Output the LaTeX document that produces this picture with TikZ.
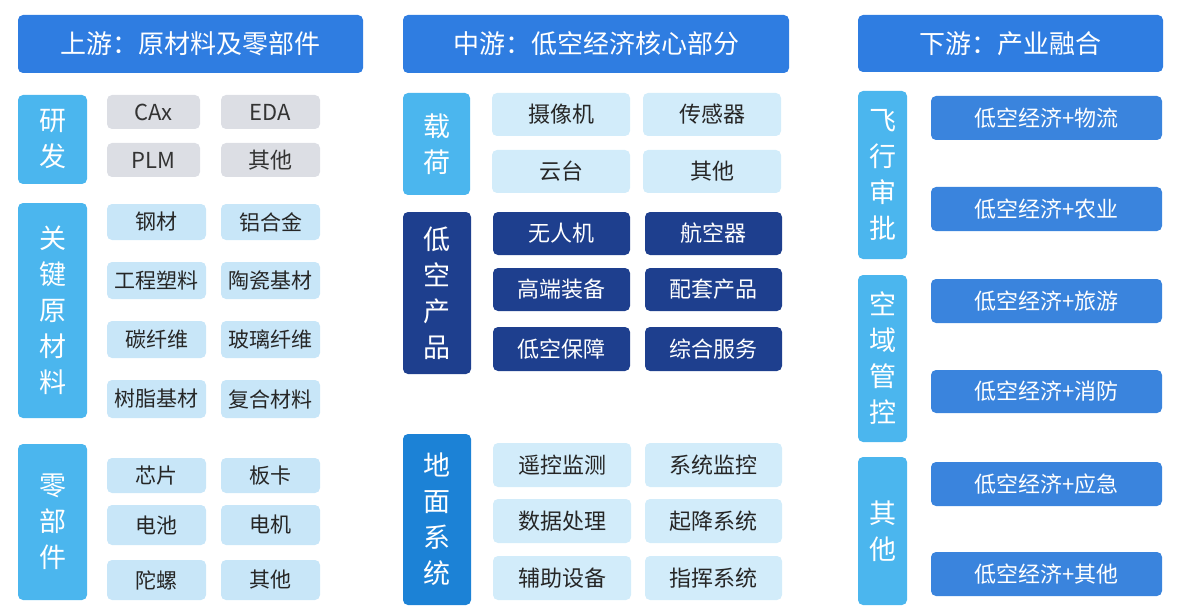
\documentclass[tikz,border=0pt]{standalone}
\usepackage{fontspec}
\setmainfont{Noto Sans CJK SC}
\definecolor{hdr}{HTML}{2F7DE1}
\definecolor{lab}{HTML}{4BB6EE}
\definecolor{grayb}{HTML}{DCDEE4}
\definecolor{lb}{HTML}{C8E6F8}
\definecolor{vlb}{HTML}{D2ECFA}
\definecolor{navy}{HTML}{1E3F8E}
\definecolor{mid}{HTML}{1C82D6}
\definecolor{rb}{HTML}{3A84DD}
\tikzset{
 bbase/.style={rounded corners=5pt,inner sep=0pt,align=center},
 hdrbox/.style={bbase,fill=hdr,text=white,font=\fontsize{26}{30}\selectfont},
 labbox/.style={bbase,fill=lab,text=white,font=\fontsize{27}{36}\selectfont},
 navylab/.style={bbase,fill=navy,text=white,font=\fontsize{27}{36}\selectfont},
 midlab/.style={bbase,fill=mid,text=white,font=\fontsize{27}{36}\selectfont},
 grayitem/.style={bbase,fill=grayb,text=black!80,font=\fontsize{22}{24}\selectfont},
 lbitem/.style={bbase,fill=lb,text=black!85,font=\fontsize{21}{24}\selectfont},
 vlbitem/.style={bbase,fill=vlb,text=black!85,font=\fontsize{22}{24}\selectfont},
 navyitem/.style={bbase,fill=navy,text=white,font=\fontsize{22}{24}\selectfont},
 rbitem/.style={bbase,fill=rb,text=white,font=\fontsize{22}{24}\selectfont},
}
\newcommand\bx[7]{\node[#6,minimum width={(#4-#2)*1pt},minimum height={(#5-#3)*1pt}] (#1) at ({(#2+#4)/2*1pt},{-(#3+#5)/2*1pt}) {#7};}
\begin{document}
\begin{tikzpicture}
\useasboundingbox (0,0) rectangle (1192pt,-615pt);
% headers
\bx{h1}{18}{15}{363}{73}{hdrbox}{上游：原材料及零部件}
\bx{h2}{403}{15}{789}{73}{hdrbox}{中游：低空经济核心部分}
\bx{h3}{858}{15}{1163}{72}{hdrbox}{下游：产业融合}
% left
\bx{l1}{18}{95}{87}{184}{labbox}{研\\发}
\bx{a1}{107}{95}{200}{129}{grayitem}{CAx}
\bx{a2}{221}{95}{320}{129}{grayitem}{EDA}
\bx{a3}{107}{143}{200}{177}{grayitem}{PLM}
\bx{a4}{221}{143}{320}{177}{grayitem}{其他}
\bx{l2}{18}{203}{87}{418}{labbox}{关\\键\\原\\材\\料}
\bx{b1}{107}{204}{206}{240}{lbitem}{钢材}
\bx{b2}{221}{204}{320}{240}{lbitem}{铝合金}
\bx{b3}{107}{262}{206}{299}{lbitem}{工程塑料}
\bx{b4}{221}{262}{320}{299}{lbitem}{陶瓷基材}
\bx{b5}{107}{321}{206}{358}{lbitem}{碳纤维}
\bx{b6}{221}{321}{320}{358}{lbitem}{玻璃纤维}
\bx{b7}{107}{380}{206}{418}{lbitem}{树脂基材}
\bx{b8}{221}{380}{320}{418}{lbitem}{复合材料}
\bx{l3}{18}{444}{87}{600}{labbox}{零\\部\\件}
\bx{c1}{107}{458}{206}{493}{lbitem}{芯片}
\bx{c2}{221}{458}{320}{493}{lbitem}{板卡}
\bx{c3}{107}{505}{206}{545}{lbitem}{电池}
\bx{c4}{221}{505}{320}{545}{lbitem}{电机}
\bx{c5}{107}{560}{206}{600}{lbitem}{陀螺}
\bx{c6}{221}{560}{320}{600}{lbitem}{其他}
% middle
\bx{m1}{403}{93}{470}{195}{labbox}{载\\荷}
\bx{d1}{492}{93}{630}{136}{vlbitem}{摄像机}
\bx{d2}{643}{93}{781}{136}{vlbitem}{传感器}
\bx{d3}{492}{150}{630}{193}{vlbitem}{云台}
\bx{d4}{643}{150}{781}{193}{vlbitem}{其他}
\bx{m2}{403}{212}{471}{374}{navylab}{低\\空\\产\\品}
\bx{e1}{493}{212}{630}{255}{navyitem}{无人机}
\bx{e2}{645}{212}{782}{255}{navyitem}{航空器}
\bx{e3}{493}{268}{630}{311}{navyitem}{高端装备}
\bx{e4}{645}{268}{782}{311}{navyitem}{配套产品}
\bx{e5}{493}{327}{630}{371}{navyitem}{低空保障}
\bx{e6}{645}{327}{782}{371}{navyitem}{综合服务}
\bx{m3}{403}{434}{471}{605}{midlab}{地\\面\\系\\统}
\bx{f1}{493}{443}{631}{487}{vlbitem}{遥控监测}
\bx{f2}{645}{443}{782}{487}{vlbitem}{系统监控}
\bx{f3}{493}{499}{631}{543}{vlbitem}{数据处理}
\bx{f4}{645}{499}{782}{543}{vlbitem}{起降系统}
\bx{f5}{493}{556}{631}{600}{vlbitem}{辅助设备}
\bx{f6}{645}{556}{782}{600}{vlbitem}{指挥系统}
% right
\bx{r1}{858}{91}{907}{259}{labbox}{飞\\行\\审\\批}
\bx{g1}{931}{96}{1162}{140}{rbitem}{低空经济+物流}
\bx{g2}{931}{187}{1162}{231}{rbitem}{低空经济+农业}
\bx{r2}{858}{275}{907}{442}{labbox}{空\\域\\管\\控}
\bx{g3}{931}{279}{1162}{323}{rbitem}{低空经济+旅游}
\bx{g4}{931}{370}{1162}{413}{rbitem}{低空经济+消防}
\bx{r3}{858}{457}{907}{605}{labbox}{其\\他}
\bx{g5}{931}{462}{1162}{506}{rbitem}{低空经济+应急}
\bx{g6}{931}{552}{1162}{596}{rbitem}{低空经济+其他}
\end{tikzpicture}
\end{document}
